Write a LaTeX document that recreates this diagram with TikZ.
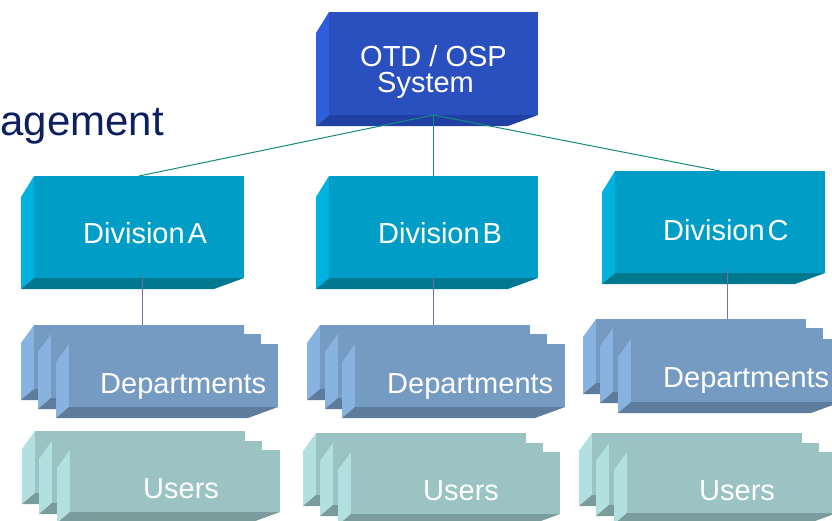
\documentclass[tikz,border=0pt]{standalone}
\usepackage{fontspec}
\setmainfont{Liberation Sans}

\definecolor{topF}{RGB}{42,80,192}
\definecolor{topL}{RGB}{46,94,220}
\definecolor{topB}{RGB}{33,64,164}
\definecolor{divF}{RGB}{0,158,198}
\definecolor{divL}{RGB}{0,178,224}
\definecolor{divB}{RGB}{0,120,144}
\definecolor{depF}{RGB}{117,155,194}
\definecolor{depL}{RGB}{136,178,224}
\definecolor{depB}{RGB}{94,124,156}
\definecolor{usrF}{RGB}{156,195,195}
\definecolor{usrL}{RGB}{178,224,224}
\definecolor{usrB}{RGB}{122,156,156}
\definecolor{titleC}{RGB}{12,32,96}
\definecolor{linkC}{RGB}{22,138,126}
\definecolor{subC}{RGB}{124,108,160}

\tikzset{
  facebox/.style={rectangle, inner sep=0pt, outer sep=0pt, draw=none},
  lbl/.style={anchor=base west, inner sep=0pt, text=white,
              font=\fontsize{29}{32}\selectfont},
  link/.style={draw=linkC, line width=1pt},
  sublink/.style={draw=subC, line width=1pt},
}

% 3-D slab: #1 name, #2 left x of side face, #3 right x, #4 top y,
% #5 bottom y of front face, #6 front, #7 side, #8 bottom colour,
% #9 drop of the slanted top edge of the side face
\newcommand\slab[9]{%
  \fill[#7] (#2,#4+#9) -- (#2+13,#4) -- (#2+13,#5) -- (#2,#5+11) -- cycle;
  \fill[#8] (#2,#5+11) -- (#2+13,#5) -- (#3,#5) -- (#3-30,#5+11) -- cycle;
  \node[facebox, fill=#6, minimum width={(#3-#2-13)*1pt},
        minimum height={(#5-#4)*1pt}, anchor=north west] (#1) at (#2+13,#4) {};
}

\begin{document}
\begin{tikzpicture}[x=1pt, y=-1pt]
\useasboundingbox (0,0) rectangle (832,520);
\fill[white] (0,0) rectangle (832,520);

% heading
\node[anchor=base east, inner sep=0pt, text=titleC,
      font=\fontsize{42}{46}\selectfont] (title) at (164,135) {agement};

% top system box
\slab{otd}{316}{538}{12}{115}{topF}{topL}{topB}{21}
\node[anchor=north west, inner sep=0pt, text=white, align=left,
      font=\fontsize{29}{26}\selectfont] (otdtxt) at (360,45)
      {OTD / OSP\\\hspace*{17pt}System};

% divisions
\slab{divA}{21}{244}{176}{278}{divF}{divL}{divB}{21}
\slab{divB}{316}{538}{176}{278}{divF}{divL}{divB}{21}
\slab{divC}{602}{825}{171}{273}{divF}{divL}{divB}{21}
\node[lbl] (lblA) at (83,243) {Division\hspace{3pt}A};
\node[lbl] (lblB) at (378,243) {Division\hspace{3pt}B};
\node[lbl] (lblC) at (663,240) {Division\hspace{3pt}C};

% department stacks
\slab{depA1}{21}{244}{325}{389}{depF}{depL}{depB}{18}
\slab{depA2}{38}{261}{334}{398}{depF}{depL}{depB}{18}
\slab{depA3}{56}{278}{344}{407}{depF}{depL}{depB}{18}
\node[lbl] (ldepA) at (100,393) {Departments};

\slab{depB1}{307}{530}{325}{389}{depF}{depL}{depB}{18}
\slab{depB2}{325}{547}{334}{398}{depF}{depL}{depB}{18}
\slab{depB3}{342}{565}{344}{407}{depF}{depL}{depB}{18}
\node[lbl] (ldepB) at (387,393) {Departments};

\slab{depC1}{583}{806}{319}{383}{depF}{depL}{depB}{18}
\slab{depC2}{600}{823}{328}{392}{depF}{depL}{depB}{18}
\slab{depC3}{618}{841}{339}{402}{depF}{depL}{depB}{18}
\node[lbl] (ldepC) at (663,387) {Departments};

% user stacks
\slab{usrA1}{22}{245}{431}{493}{usrF}{usrL}{usrB}{18}
\slab{usrA2}{39}{262}{441}{503}{usrF}{usrL}{usrB}{18}
\slab{usrA3}{57}{280}{450}{512}{usrF}{usrL}{usrB}{18}
\node[lbl] (lusrA) at (143,498) {Users};

\slab{usrB1}{303}{526}{433}{495}{usrF}{usrL}{usrB}{18}
\slab{usrB2}{320}{543}{443}{505}{usrF}{usrL}{usrB}{18}
\slab{usrB3}{338}{560}{452}{514}{usrF}{usrL}{usrB}{18}
\node[lbl] (lusrB) at (423,500) {Users};

\slab{usrC1}{579}{802}{433}{495}{usrF}{usrL}{usrB}{18}
\slab{usrC2}{596}{819}{443}{505}{usrF}{usrL}{usrB}{18}
\slab{usrC3}{614}{837}{452}{513}{usrF}{usrL}{usrB}{18}
\node[lbl] (lusrC) at (699,500) {Users};

% connectors
\draw[link] (otd.south) -- (divA.north);
\draw[link] (otd.south) -- (divB.north);
\draw[link] (otd.south) -- (divC.north);
\draw[sublink] ([shift={(3pt,3pt)}]divA.south) -- ([xshift=3pt]divA.south |- depA1.north);
\draw[sublink] (divB.south) -- (divB.south |- depB1.north);
\draw[sublink] ([shift={(7pt,3pt)}]divC.south) -- ([xshift=7pt]divC.south |- depC1.north);
\end{tikzpicture}
\end{document}
